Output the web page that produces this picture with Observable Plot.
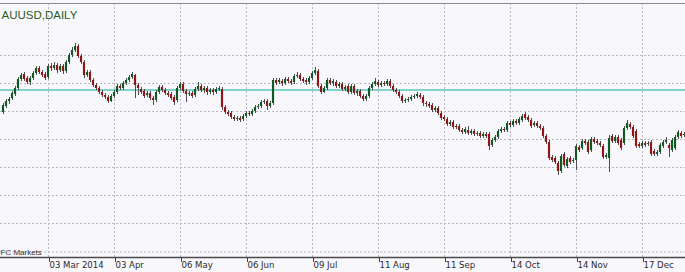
<!DOCTYPE html>
<html><head><meta charset="utf-8">
<script src="https://cdn.jsdelivr.net/npm/d3@7"></script>
<script src="https://cdn.jsdelivr.net/npm/@observablehq/plot@0.6"></script>
<style>html,body{margin:0;padding:0;background:#f8f8fc;overflow:hidden}</style>
</head><body><div id="chart"></div>
<script>
const title = "AUUSD,DAILY";
const credit = "FC Markets";

const open = [1256,1268,1278,1284,1292,1304,1322,1332,1324,1316,1324,1334,1344,1336,1332,1326,1348,1344,1350,1340,
1348,1338,1356,1370,1380,1388,1368,1356,1330,1336,1320,1310,1304,1296,1290,1286,1278,1288,1296,1308,
1304,1314,1320,1326,1330,1310,1302,1298,1290,1294,1284,1280,1296,1306,1300,1294,1292,1286,1280,1304,
1312,1298,1292,1294,1290,1302,1308,1300,1304,1296,1300,1296,1302,1302,1266,1256,1254,1246,1242,1244,
1242,1248,1254,1252,1258,1266,1268,1276,1278,1268,1274,1320,1316,1318,1314,1322,1318,1316,1328,1330,
1322,1320,1316,1324,1334,1338,1308,1296,1304,1320,1314,1316,1308,1312,1302,1308,1296,1308,1294,1298,
1288,1282,1288,1304,1312,1316,1310,1314,1312,1318,1308,1300,1296,1288,1278,1280,1282,1286,1288,1290,
1286,1274,1272,1270,1260,1264,1254,1246,1242,1232,1236,1228,1228,1220,1216,1220,1214,1218,1212,1214,
1208,1212,1212,1190,1200,1206,1218,1222,1220,1234,1230,1238,1234,1240,1252,1246,1240,1230,1234,1228,
1224,1208,1196,1166,1164,1154,1138,1172,1148,1164,1158,1160,1186,1184,1198,1196,1180,1202,1198,1194,
1188,1166,1164,1208,1198,1206,1200,1194,1224,1232,1226,1218,1192,1188,1194,1192,1196,1178,1172,1176,
1188,1196,1190,1180,1184,1206,1214,1210];

const high = [1274,1282,1286,1298,1308,1326,1334,1336,1328,1328,1338,1348,1348,1340,1336,1352,1354,1356,1354,1352,
1352,1360,1374,1386,1394,1392,1372,1360,1340,1340,1324,1314,1308,1300,1294,1290,1292,1300,1312,1312,
1318,1324,1330,1336,1332,1314,1306,1302,1298,1298,1288,1300,1310,1310,1304,1298,1296,1290,1308,1316,
1316,1302,1298,1298,1306,1316,1312,1308,1308,1304,1304,1306,1308,1306,1270,1260,1258,1250,1248,1248,
1252,1258,1258,1262,1270,1272,1280,1282,1282,1278,1324,1324,1324,1322,1326,1326,1322,1332,1336,1334,
1326,1324,1328,1338,1346,1342,1312,1308,1324,1324,1322,1320,1316,1316,1310,1312,1312,1312,1302,1302,
1292,1292,1308,1316,1324,1320,1318,1318,1322,1322,1312,1304,1300,1292,1284,1286,1290,1292,1296,1294,
1290,1278,1276,1274,1268,1268,1258,1250,1246,1240,1240,1232,1232,1224,1226,1228,1222,1222,1218,1218,
1216,1216,1216,1204,1210,1222,1226,1226,1238,1238,1242,1242,1246,1252,1256,1250,1244,1238,1238,1232,
1228,1212,1200,1170,1168,1158,1172,1176,1166,1168,1164,1192,1190,1202,1202,1200,1206,1206,1202,1198,
1192,1174,1210,1212,1210,1210,1204,1228,1240,1236,1230,1222,1196,1198,1198,1198,1200,1182,1180,1194,
1200,1206,1194,1204,1210,1220,1218,1216];

const low = [1252,1264,1272,1280,1288,1300,1318,1318,1312,1310,1320,1330,1332,1326,1320,1322,1338,1340,1334,1336,
1332,1334,1352,1366,1376,1364,1352,1324,1326,1316,1306,1300,1292,1286,1282,1274,1276,1284,1292,1300,
1300,1310,1316,1322,1284,1290,1292,1284,1286,1280,1270,1276,1292,1296,1290,1286,1280,1270,1276,1300,
1294,1276,1288,1284,1286,1298,1296,1294,1290,1292,1290,1292,1298,1260,1252,1248,1242,1238,1238,1236,
1238,1244,1248,1248,1254,1262,1264,1272,1260,1264,1270,1310,1312,1308,1310,1314,1310,1312,1324,1318,
1314,1310,1312,1320,1330,1304,1292,1294,1300,1310,1308,1304,1304,1298,1298,1292,1292,1290,1288,1284,
1278,1278,1284,1300,1308,1306,1306,1308,1308,1304,1296,1292,1284,1274,1274,1276,1278,1282,1284,1282,
1268,1266,1264,1256,1256,1250,1240,1238,1228,1228,1222,1222,1216,1212,1212,1210,1210,1208,1208,1204,
1204,1204,1180,1186,1196,1202,1214,1216,1216,1226,1226,1230,1230,1236,1240,1236,1224,1226,1224,1220,
1204,1192,1160,1156,1152,1130,1134,1146,1144,1152,1154,1140,1176,1180,1190,1172,1176,1192,1190,1186,
1162,1162,1136,1194,1194,1190,1180,1190,1220,1222,1204,1184,1184,1184,1186,1188,1168,1168,1168,1172,
1184,1192,1166,1176,1180,1202,1204,1206];

const close = [1270,1278,1282,1294,1304,1322,1330,1322,1316,1324,1334,1344,1336,1330,1324,1348,1344,1350,1340,1348,
1338,1356,1370,1380,1388,1368,1356,1330,1336,1320,1310,1304,1296,1290,1286,1278,1288,1296,1308,1304,
1314,1320,1326,1332,1310,1304,1296,1288,1294,1284,1280,1296,1306,1300,1294,1290,1284,1276,1304,1312,
1298,1292,1294,1288,1302,1308,1300,1304,1296,1300,1296,1302,1304,1266,1256,1252,1246,1242,1244,1240,
1248,1254,1252,1258,1266,1268,1276,1278,1268,1274,1320,1314,1320,1314,1322,1318,1314,1328,1330,1322,
1318,1316,1324,1334,1340,1308,1296,1304,1320,1314,1318,1308,1312,1302,1306,1296,1308,1294,1298,1288,
1282,1288,1304,1312,1318,1310,1314,1312,1318,1308,1300,1296,1288,1278,1280,1282,1286,1288,1292,1286,
1274,1272,1268,1260,1264,1254,1244,1242,1232,1236,1226,1226,1220,1216,1222,1214,1218,1212,1214,1208,
1212,1208,1188,1200,1206,1218,1222,1220,1234,1230,1238,1234,1242,1248,1244,1240,1228,1234,1228,1224,
1208,1196,1164,1160,1156,1138,1168,1150,1162,1156,1160,1188,1180,1198,1194,1176,1202,1196,1194,1190,
1166,1170,1204,1198,1206,1194,1184,1224,1234,1226,1208,1188,1188,1194,1190,1194,1172,1172,1176,1190,
1196,1200,1184,1200,1206,1216,1208,1212];

const tickBars = [15, 37, 59, 81, 103, 125, 147, 169, 191, 213];
const tickLabels = ["03 Mar 2014", "03 Apr", "06 May", "06 Jun", "09 Jul", "11 Aug", "11 Sep", "14 Oct", "14 Nov", "17 Dec"];
const gridLevels = [1370, 1314, 1258, 1202, 1146, 1090, 1034, 977];
const levelLine = 1301;

const bars = open.map((o, i) => ({i, open: o, high: high[i], low: low[i], close: close[i]}));
const labelOf = new Map(tickBars.map((b, k) => [b, tickLabels[k]]));
const yMin = 966, yMax = 1474;

const chart = Plot.plot({
  width: 685, height: 272,
  marginTop: 3, marginBottom: 15, marginLeft: 0, marginRight: 0,
  style: {background: "#f8f8fc", fontFamily: "'Liberation Sans', Arial, sans-serif", overflow: "visible"},
  x: {domain: [-1, 227.3333], axis: null, label: null},
  y: {domain: [yMin, yMax], axis: null, label: null},
  marks: [
    Plot.ruleY(gridLevels, {stroke: "#b8b8c0", strokeDasharray: "2,2"}),
    Plot.ruleX(tickBars, {stroke: "#b8b8c0", strokeDasharray: "2,2"}),
    Plot.ruleY([levelLine], {stroke: "#80d2cf", strokeWidth: 2}),
    Plot.ruleX(bars, {x: "i", y1: "low", y2: "high", stroke: "#4e4e4e", strokeWidth: 1}),
    Plot.rect(bars, {
      x1: d => d.i - 0.36, x2: d => d.i + 0.36,
      y1: "open", y2: "close",
      fill: d => d.close >= d.open ? "#0e5a24" : "#8e1616"
    }),
    Plot.ruleY([yMax], {stroke: "#8c8c8c"}),
    Plot.ruleY([yMin], {stroke: "#4a4a4a", strokeWidth: 1.5}),
    Plot.axisX(tickBars, {
      label: null,
      tickSize: 5, tickPadding: -1, tickFormat: d => labelOf.get(d),
      textAnchor: "start", dx: 1, fontSize: 9.5, fill: "#2a2a2a", stroke: "#444",
      fontFamily: "'Liberation Sans Narrow', 'DejaVu Sans Condensed', sans-serif"
    }),
    Plot.text([title], {
      frameAnchor: "top-left", textAnchor: "start", lineAnchor: "top",
      dx: 1, dy: 7, fontSize: 11.5, fill: "#2a5a1c"
    }),
    Plot.text([credit], {
      frameAnchor: "bottom-left", textAnchor: "start", lineAnchor: "middle",
      dx: 0, dy: -5.5, fontSize: 8, fill: "#333"
    })
  ]
});
document.getElementById("chart").appendChild(chart);
</script>
</body></html>
